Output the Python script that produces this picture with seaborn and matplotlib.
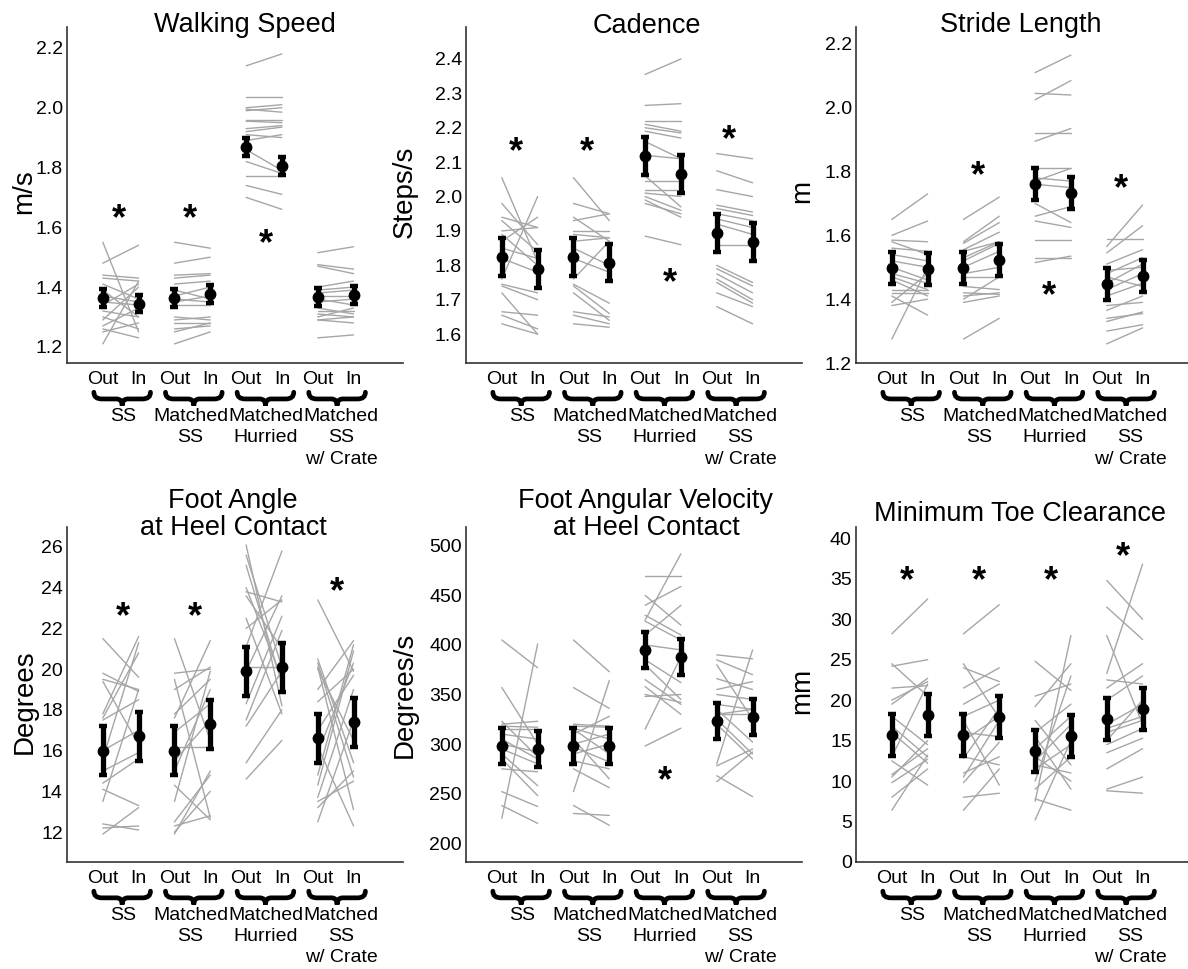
import numpy as np
import pandas as pd
import matplotlib
matplotlib.use('Agg')
import matplotlib.pyplot as plt
import matplotlib.transforms as mtransforms
from matplotlib.path import Path
from matplotlib.patches import PathPatch
import seaborn as sns

sns.set_style('white')
plt.rcParams['font.family'] = ['Liberation Sans', 'DejaVu Sans']
plt.rcParams['text.color'] = 'black'
plt.rcParams['axes.labelcolor'] = 'black'
plt.rcParams['xtick.color'] = 'black'
plt.rcParams['ytick.color'] = 'black'

tick_labels = ['Out', 'In'] * 4
group_labels = ['SS', 'Matched\nSS', 'Matched\nHurried', 'Matched\nSS\nw/ Crate']

# ---- walking speed (m/s) : one list per condition, subjects in same order out/in
speed_out = [[1.55, 1.48, 1.44, 1.43, 1.41, 1.39, 1.37, 1.35, 1.34, 1.32, 1.30, 1.29, 1.27, 1.26, 1.21, 1.25],
             [1.55, 1.48, 1.44, 1.43, 1.41, 1.39, 1.37, 1.36, 1.35, 1.34, 1.30, 1.29, 1.28, 1.26, 1.25, 1.21],
             [2.14, 2.035, 2.00, 1.995, 1.99, 1.96, 1.955, 1.93, 1.92, 1.91, 1.89, 1.86, 1.82, 1.77, 1.74, 1.70],
             [1.515, 1.475, 1.47, 1.40, 1.39, 1.38, 1.37, 1.36, 1.35, 1.33, 1.32, 1.31, 1.30, 1.29, 1.29, 1.23]]
speed_in = [[1.25, 1.54, 1.43, 1.42, 1.36, 1.30, 1.35, 1.34, 1.41, 1.30, 1.26, 1.40, 1.33, 1.23, 1.42, 1.28],
            [1.53, 1.50, 1.445, 1.44, 1.42, 1.36, 1.40, 1.35, 1.37, 1.34, 1.29, 1.30, 1.28, 1.27, 1.28, 1.25],
            [2.18, 2.035, 2.01, 1.985, 2.00, 1.96, 1.95, 1.94, 1.935, 1.90, 1.91, 1.79, 1.78, 1.77, 1.71, 1.66],
            [1.535, 1.46, 1.445, 1.42, 1.40, 1.39, 1.37, 1.34, 1.36, 1.31, 1.32, 1.30, 1.33, 1.28, 1.30, 1.24]]
speed_mean = [1.365, 1.345, 1.365, 1.378, 1.870, 1.805, 1.367, 1.374]
speed_err = [0.03, 0.03, 0.03, 0.03, 0.03, 0.03, 0.03, 0.03]

# ---- cadence (steps/s)
cad_out = [[2.055, 1.98, 1.94, 1.93, 1.90, 1.89, 1.87, 1.85, 1.82, 1.76, 1.745, 1.74, 1.72, 1.665, 1.655, 1.63],
           [2.055, 1.98, 1.94, 1.93, 1.90, 1.89, 1.87, 1.85, 1.82, 1.76, 1.745, 1.74, 1.72, 1.665, 1.655, 1.63],
           [2.355, 2.265, 2.22, 2.21, 2.20, 2.19, 2.16, 2.12, 2.06, 2.045, 2.02, 2.01, 2.00, 1.99, 1.98, 1.885],
           [2.125, 2.075, 2.02, 1.975, 1.965, 1.95, 1.935, 1.92, 1.86, 1.80, 1.79, 1.775, 1.76, 1.72, 1.68, 1.75]]
cad_in = [[1.81, 1.86, 1.91, 1.84, 1.91, 1.80, 1.94, 1.82, 1.78, 2.00, 1.72, 1.70, 1.60, 1.655, 1.615, 1.60],
          [1.93, 1.95, 1.87, 1.95, 1.90, 1.88, 1.88, 1.80, 1.78, 1.87, 1.69, 1.66, 1.64, 1.65, 1.63, 1.62],
          [2.40, 2.27, 2.22, 2.19, 2.185, 2.17, 2.11, 2.11, 1.97, 2.045, 2.02, 2.00, 1.96, 1.94, 1.95, 1.86],
          [2.11, 2.04, 2.00, 1.955, 1.945, 1.93, 1.91, 1.89, 1.86, 1.75, 1.74, 1.72, 1.70, 1.68, 1.63, 1.69]]
cad_mean = [1.825, 1.790, 1.825, 1.808, 2.118, 2.065, 1.895, 1.868]
cad_err = [0.055] * 8

# ---- stride length (m)
stride_out = [[1.65, 1.60, 1.585, 1.58, 1.56, 1.54, 1.52, 1.50, 1.48, 1.47, 1.46, 1.43, 1.42, 1.41, 1.39, 1.38, 1.275],
              [1.65, 1.58, 1.575, 1.555, 1.55, 1.53, 1.52, 1.50, 1.48, 1.47, 1.44, 1.42, 1.41, 1.40, 1.39, 1.275],
              [2.11, 2.025, 2.045, 1.895, 1.92, 1.81, 1.78, 1.77, 1.76, 1.70, 1.66, 1.645, 1.585, 1.53, 1.515],
              [1.59, 1.565, 1.545, 1.51, 1.49, 1.48, 1.47, 1.45, 1.43, 1.41, 1.38, 1.365, 1.34, 1.33, 1.30, 1.26]]
stride_in = [[1.73, 1.645, 1.58, 1.54, 1.55, 1.52, 1.50, 1.46, 1.45, 1.43, 1.41, 1.43, 1.42, 1.35, 1.48, 1.40, 1.50],
             [1.72, 1.66, 1.64, 1.61, 1.58, 1.58, 1.575, 1.55, 1.50, 1.47, 1.43, 1.415, 1.42, 1.47, 1.41, 1.34],
             [2.165, 2.085, 2.04, 1.935, 1.92, 1.81, 1.77, 1.81, 1.75, 1.64, 1.69, 1.625, 1.585, 1.53, 1.535],
             [1.59, 1.695, 1.63, 1.555, 1.50, 1.53, 1.44, 1.51, 1.48, 1.45, 1.39, 1.41, 1.355, 1.36, 1.32, 1.31]]
stride_mean = [1.497, 1.495, 1.497, 1.523, 1.762, 1.732, 1.447, 1.472]
stride_err = [0.05] * 8

# ---- foot angle at heel contact (degrees)
angle_out = [[21.5, 19.8, 19.5, 19.4, 17.8, 17.6, 17.5, 16.0, 15.6, 15.0, 14.4, 14.1, 13.5, 12.4, 12.2, 11.9],
             [21.5, 19.8, 19.5, 19.0, 17.8, 17.6, 16.9, 16.2, 15.5, 15.0, 14.3, 13.5, 12.5, 12.3, 12.0, 11.9],
             [26.1, 25.6, 25.1, 23.8, 23.6, 22.5, 22.0, 21.1, 20.1, 19.9, 18.3, 17.5, 17.2, 15.4, 14.6, 24.0],
             [23.4, 20.5, 20.3, 20.1, 19.0, 18.4, 17.0, 16.2, 15.9, 14.8, 14.3, 13.7, 13.5, 13.2, 12.5, 20.0]]
angle_in = [[19.6, 18.9, 19.0, 16.3, 21.6, 20.8, 18.5, 17.0, 21.3, 15.9, 15.6, 13.3, 19.0, 12.1, 12.3, 13.2],
            [16.5, 20.0, 12.7, 20.1, 19.5, 21.4, 18.3, 16.2, 17.5, 19.0, 12.6, 19.9, 14.8, 12.8, 14.0, 15.0],
            [18.2, 20.1, 19.3, 23.3, 21.0, 17.8, 23.4, 25.8, 20.1, 23.6, 22.6, 21.9, 19.9, 18.0, 16.5, 19.5],
            [19.9, 15.4, 14.7, 13.1, 21.4, 20.0, 19.7, 12.3, 20.3, 21.2, 20.9, 19.0, 14.5, 15.0, 17.5, 16.5]]
angle_mean = [16.0, 16.7, 16.0, 17.3, 19.9, 20.1, 16.6, 17.4]
angle_err = [1.2] * 8

# ---- foot angular velocity at heel contact (degrees/s)
angvel_out = [[405, 357, 323, 320, 318, 315, 310, 305, 300, 295, 290, 285, 275, 252, 238, 225],
              [405, 357, 320, 318, 316, 315, 310, 305, 300, 297, 290, 283, 275, 252, 238, 230],
              [470, 450, 440, 430, 425, 424, 410, 400, 385, 380, 365, 358, 350, 348, 315, 298],
              [390, 385, 380, 366, 355, 350, 340, 335, 330, 330, 325, 320, 280, 278, 268, 262]]
angvel_in = [[377, 300, 287, 323, 317, 315, 305, 285, 292, 280, 258, 248, 272, 237, 220, 401],
             [373, 336, 318, 317, 305, 290, 328, 265, 310, 282, 300, 275, 256, 364, 218, 228],
             [470, 420, 459, 410, 492, 405, 440, 395, 362, 345, 340, 330, 342, 350, 388, 316],
             [386, 370, 325, 355, 363, 345, 335, 302, 335, 330, 290, 285, 395, 295, 247, 292]]
angvel_mean = [298, 295, 298, 298, 395, 388, 323, 327]
angvel_err = [18] * 8

# ---- minimum toe clearance (mm)
mtc_out = [[28.2, 24.5, 24.2, 21.5, 20.0, 19.5, 18.0, 16.8, 16.0, 13.0, 12.5, 10.8, 10.5, 9.8, 8.0, 6.4],
           [28.2, 24.5, 24.0, 21.5, 19.5, 18.0, 17.5, 16.0, 15.0, 13.0, 12.8, 11.0, 10.5, 9.8, 8.0, 6.4],
           [24.8, 20.5, 19.2, 17.5, 16.0, 15.5, 14.0, 13.0, 12.5, 12.0, 11.5, 10.0, 9.0, 7.8, 7.5, 5.2],
           [34.8, 31.5, 28.0, 23.3, 22.5, 21.5, 20.0, 17.0, 16.5, 16.0, 15.0, 14.5, 13.5, 11.5, 9.0, 8.8]]
mtc_in = [[32.5, 20.5, 25.0, 21.8, 22.3, 22.7, 14.5, 13.0, 12.2, 22.0, 9.5, 14.0, 15.0, 12.7, 11.5, 13.2],
          [31.8, 17.8, 22.3, 24.0, 22.0, 20.0, 9.5, 15.5, 18.0, 12.0, 19.0, 13.0, 17.5, 14.8, 8.5, 11.5],
          [21.2, 22.0, 24.5, 12.0, 19.5, 9.0, 18.0, 10.0, 17.0, 11.0, 14.5, 23.0, 13.0, 6.4, 28.0, 15.0],
          [30.0, 27.5, 17.0, 36.8, 22.0, 24.5, 23.0, 19.5, 18.0, 17.5, 20.0, 16.5, 15.3, 14.0, 10.5, 8.5]]
mtc_mean = [15.7, 18.2, 15.7, 17.9, 13.7, 15.6, 17.7, 18.9]
mtc_err = [2.6] * 8

panels = [
    ('Walking Speed', 'm/s', speed_out, speed_in, speed_mean, speed_err,
     np.arange(1.2, 2.21, 0.2), '%.1f', (1.146, 2.27),
     [(1.45, 1.665), (3.43, 1.665), (5.55, 1.58)]),
    ('Cadence', 'Steps/s', cad_out, cad_in, cad_mean, cad_err,
     np.arange(1.6, 2.41, 0.1), '%.1f', (1.516, 2.493),
     [(1.39, 2.16), (3.37, 2.16), (5.68, 1.78), (7.35, 2.195)]),
    ('Stride Length', 'm', stride_out, stride_in, stride_mean, stride_err,
     np.arange(1.2, 2.21, 0.2), '%.1f', (1.2, 2.253),
     [(3.41, 1.82), (5.4, 1.444), (7.39, 1.779)]),
    ('Foot Angle\nat Heel Contact', 'Degrees', angle_out, angle_in, angle_mean, angle_err,
     np.arange(12, 27, 2), '%d', (10.53, 26.98),
     [(1.56, 23.1), (3.57, 23.1), (7.53, 24.3)]),
    ('Foot Angular Velocity\nat Heel Contact', 'Degrees/s', angvel_out, angvel_in, angvel_mean, angvel_err,
     np.arange(200, 501, 50), '%d', (181, 519),
     [(5.54, 273)]),
    ('Minimum Toe Clearance', 'mm', mtc_out, mtc_in, mtc_mean, mtc_err,
     np.arange(0, 41, 5), '%d', (0, 41.4),
     [(1.42, 36.1), (3.44, 36.1), (5.45, 36.1), (7.44, 39.0)]),
]

# pixel layout of the reference (1188 x 969); title y = baseline of last line
W, H = 1188, 969
lefts = [67, 466, 856]
title_pos = [(245, 32), (647, 33), (1021, 32), (233, 535), (646, 535), (1020, 521)]
ylabel_x = [-0.088, -0.144, -0.12, -0.088, -0.144, -0.12]
ylabel_y = [0.51, 0.51, 0.51, 0.48, 0.5, 0.51]

fig = plt.figure(figsize=(W / 100, H / 100), dpi=100)
shift = mtransforms.ScaledTranslation(0.05, 0, fig.dpi_scale_trans)


def brace(ax, x0, x1, y0=-0.087, y1=-0.127):
    tr = mtransforms.blended_transform_factory(ax.transData, ax.transAxes)
    w = x1 - x0
    xm = (x0 + x1) / 2
    ym = (y0 + y1) / 2
    verts = [(x0, y0), (x0, ym), (x0 + 0.14 * w, ym), (xm - 0.1 * w, ym),
             (xm, ym), (xm, y1), (xm, ym), (xm + 0.1 * w, ym),
             (x1 - 0.14 * w, ym), (x1, ym), (x1, y0)]
    codes = [Path.MOVETO, Path.CURVE3, Path.CURVE3, Path.LINETO,
             Path.CURVE3, Path.CURVE3, Path.CURVE3, Path.CURVE3,
             Path.LINETO, Path.CURVE3, Path.CURVE3]
    ax.add_patch(PathPatch(Path(verts, codes), transform=tr, facecolor='none',
                           edgecolor='black', lw=3.4, clip_on=False, capstyle='round'))


for i, (title, ylab, outs, ins, means, errs, yt, fmt, ylim, stars) in enumerate(panels):
    row, col = divmod(i, 3)
    if row == 0:
        rect = [lefts[col] / W, 1 - 363 / H, 336 / W, 336 / H]
    else:
        rect = [lefts[col] / W, 1 - 862 / H, 336 / W, 335 / H]
    ax = fig.add_axes(rect)

    rows = []
    for g in range(4):
        for s, (a, b) in enumerate(zip(outs[g], ins[g])):
            rows.append({'pos': 2 * g + 1, 'val': a, 'subj': f'{g}-{s}'})
            rows.append({'pos': 2 * g + 2, 'val': b, 'subj': f'{g}-{s}'})
    df = pd.DataFrame(rows)
    sns.lineplot(data=df, x='pos', y='val', units='subj', estimator=None,
                 color='#a6a6a6', lw=1.0, legend=False, ax=ax, zorder=1)

    ax.errorbar(np.arange(1, 9), means, yerr=errs, fmt='o', color='black',
                ms=7.5, elinewidth=3.8, capsize=3.2, capthick=3.2, zorder=3)

    for sx, sy in stars:
        ax.annotate('*', xy=(sx, sy), xytext=(0, -15), textcoords='offset points',
                    ha='center', va='baseline', fontsize=26, fontweight='bold')

    ax.set_xlim(0, 9.38)
    ax.set_ylim(*ylim)
    ax.set_xticks(np.arange(1, 9))
    ax.set_xticklabels(tick_labels, fontsize=14)
    for lab in ax.get_xticklabels():
        lab.set_transform(lab.get_transform() + shift)
    ax.set_yticks(yt)
    ax.set_yticklabels([fmt % v for v in yt], fontsize=14)
    ax.tick_params(direction='in', length=3, width=1, color='#333333', pad=3)
    ax.tick_params(axis='x', pad=6)
    ax.set_xlabel('')
    ax.set_ylabel(ylab, fontsize=20)
    ax.yaxis.set_label_coords(ylabel_x[i], ylabel_y[i])
    for side in ['top', 'right']:
        ax.spines[side].set_visible(False)
    for side in ['left', 'bottom']:
        ax.spines[side].set_color('#333333')
        ax.spines[side].set_linewidth(1.2)

    centers = [1.58, 3.45, 5.55, 7.65]
    for g in range(4):
        brace(ax, 2 * g + 0.75, 2 * g + 2.33)
        ax.text(centers[g], -0.134, group_labels[g], transform=ax.get_xaxis_transform(),
                ha='center', va='top', fontsize=14, linespacing=1.33)

    tx, ty = title_pos[i]
    fig.text(tx / W, 1 - ty / H, title, ha='center', va='baseline',
             fontsize=19.5, linespacing=1.05)

fig.savefig('out.png', dpi=100)
